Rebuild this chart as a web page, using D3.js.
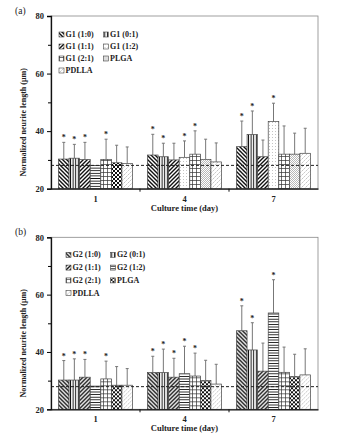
<!DOCTYPE html>
<meta charset="utf-8">
<title>Normalized neurite length</title>
<script src="https://d3js.org/d3.v7.min.js"></script>
<style>
  body { margin: 0; background: #fff; }
  text { font-family: "Liberation Serif", "Times New Roman", serif; font-weight: bold; fill: #222; }
</style>
<div id="chart"></div>
<script>
// data
var days = ["1", "4", "7"];
var seriesA = ["G1 (1:0)", "G1 (0:1)", "G1 (1:1)", "G1 (1:2)", "G1 (2:1)", "PLGA", "PDLLA"];
var seriesB = ["G2 (1:0)", "G2 (0:1)", "G2 (1:1)", "G2 (1:2)", "G2 (2:1)", "PLGA", "PDLLA"];
var yTicks = [20, 40, 60, 80];

// means per day (rows) per series (columns)
var meanA = [[30.3, 30.6, 30.1, 28.1, 30.2, 29.0, 28.8],
             [31.7, 31.1, 30.0, 30.9, 32.0, 30.2, 29.3],
             [34.6, 38.8, 31.1, 43.3, 32.0, 32.0, 32.3]];
var sdA   = [[5.8, 4.8, 6.0, 0, 7.0, 6.1, 5.7],
             [7.2, 4.7, 5.8, 5.7, 8.1, 7.0, 6.6],
             [8.9, 8.2, 5.8, 6.4, 9.8, 7.3, 8.7]];
var sigA  = [[1, 1, 1, 0, 1, 0, 0],
             [1, 1, 0, 1, 1, 0, 0],
             [1, 1, 0, 1, 0, 0, 0]];
var controlA = 28.1;

var meanB = [[30.2, 30.2, 31.2, 28.1, 30.6, 28.4, 28.4],
             [32.8, 32.8, 31.2, 32.4, 31.6, 30.0, 28.8],
             [47.4, 40.7, 33.3, 53.6, 32.9, 31.4, 32.0]];
var sdB   = [[6.8, 7.4, 6.2, 0, 6.2, 6.5, 5.8],
             [5.7, 8.2, 6.6, 9.6, 8.0, 7.1, 6.9],
             [8.7, 9.5, 9.8, 11.6, 8.8, 7.8, 9.1]];
var sigB  = [[1, 1, 1, 0, 1, 0, 0],
             [1, 1, 1, 1, 1, 0, 0],
             [1, 1, 0, 1, 0, 0, 0]];
var controlB = 27.9;

var svg = d3.select("#chart").append("svg")
    .attr("width", 340).attr("height", 440);

// hatch patterns
var defs = svg.append("defs");
function pat(id, size, draw) {
  var p = defs.append("pattern").attr("id", id)
    .attr("patternUnits", "userSpaceOnUse")
    .attr("width", size).attr("height", size);
  p.append("rect").attr("width", size).attr("height", size).attr("fill", "#fff");
  draw(p);
}
pat("bslash", 4, function(p) {
  p.append("path").attr("d", "M-1,-1L5,5M-1,3L1,5M3,-1L5,1").attr("stroke", "#111").attr("stroke-width", 1.4);
});
pat("slash", 4, function(p) {
  p.append("path").attr("d", "M-1,5L5,-1M-1,1L1,-1M3,5L5,3").attr("stroke", "#111").attr("stroke-width", 1.4);
});
pat("vert", 2.6, function(p) {
  p.append("path").attr("d", "M1.3,0V2.6").attr("stroke", "#111").attr("stroke-width", 1);
});
pat("horiz", 2.6, function(p) {
  p.append("path").attr("d", "M0,1.3H2.6").attr("stroke", "#111").attr("stroke-width", 0.9);
});
pat("dots", 3, function(p) {
  p.append("circle").attr("cx", 1.5).attr("cy", 1.5).attr("r", 0.45).attr("fill", "#888");
});
pat("grid", 4, function(p) {
  p.append("path").attr("d", "M0,0.4H4M0.4,0V4").attr("stroke", "#333").attr("stroke-width", 0.8);
});
pat("check", 4, function(p) {
  p.append("rect").attr("width", 2).attr("height", 2).attr("fill", "#111");
  p.append("rect").attr("x", 2).attr("y", 2).attr("width", 2).attr("height", 2).attr("fill", "#111");
});
pat("fine", 2, function(p) {
  p.append("path").attr("d", "M-0.5,2.5L2.5,-0.5M-0.5,0.5L0.5,-0.5M1.5,2.5L2.5,1.5").attr("stroke", "#888").attr("stroke-width", 0.6);
});
pat("light", 4, function(p) {
  p.append("path").attr("d", "M-1,5L5,-1M-1,1L1,-1M3,5L5,3").attr("stroke", "#aaa").attr("stroke-width", 0.8)
    .attr("stroke-dasharray", "2,1");
});

// pattern per series (panel a has a couple of odd ones per day)
function fillA(s, d) {
  if (s === 3) return d === 0 ? "horiz" : "dots";
  if (s === 5) return d === 0 ? "check" : "fine";
  return ["bslash", "vert", "slash", "", "grid", "", "light"][s];
}
function fillB(s) {
  return ["bslash", "vert", "slash", "horiz", "grid", "check", "light"][s];
}
var legendFillA = ["bslash", "vert", "slash", "dots", "grid", "fine", "light"];

function drawPanel(o) {
  var left = 51, w = 267, top = o.top, h = o.h;
  var g = svg.append("g").attr("transform", "translate(" + left + "," + top + ")");

  var y = d3.scaleLinear().domain([20, 80]).range([h, 0]);
  var x0 = d3.scaleBand().domain(days).range([0, w]);
  var x1 = d3.scaleBand().domain(d3.range(7)).range([7.5, x0.bandwidth() - 7.5]);

  // frame
  g.append("rect").attr("width", w).attr("height", h)
    .attr("fill", "none").attr("stroke", "#888").attr("stroke-width", 0.8);

  // bars
  days.forEach(function(day, di) {
    var gg = g.append("g").attr("transform", "translate(" + x0(day) + ",0)");
    var rows = o.series.map(function(name, si) {
      return {s: si, m: o.mean[di][si], sd: o.sd[di][si], sig: o.sig[di][si]};
    });
    // error bars
    gg.selectAll(".err").data(rows.filter(function(r) { return r.sd > 0; }))
      .enter().append("path")
      .attr("d", function(r) {
        var cx = x1(r.s) + x1.bandwidth() / 2;
        return "M" + cx + "," + y(r.m) + "V" + y(r.m + r.sd) + "M" + (cx - 1.5) + "," + y(r.m + r.sd) + "H" + (cx + 1.5);
      })
      .attr("stroke", "#777").attr("stroke-width", 1).attr("fill", "none");
    gg.selectAll(".bar").data(rows).enter().append("rect")
      .attr("x", function(r) { return x1(r.s); })
      .attr("y", function(r) { return y(r.m); })
      .attr("width", x1.bandwidth())
      .attr("height", function(r) { return y(20) - y(r.m); })
      .attr("fill", function(r) { return "url(#" + o.fill(r.s, di) + ")"; })
      .attr("stroke", "#444").attr("stroke-width", 0.7);
    gg.selectAll(".star").data(rows.filter(function(r) { return r.sig; }))
      .enter().append("text")
      .attr("x", function(r) { return x1(r.s) + x1.bandwidth() / 2; })
      .attr("y", function(r) { return y(r.m + r.sd) - 2; })
      .attr("text-anchor", "middle")
      .style("font-size", "8px")
      .text("*");
  });

  // control level
  g.append("line").attr("x1", 0).attr("x2", w)
    .attr("y1", y(o.control)).attr("y2", y(o.control))
    .attr("stroke", "#222").attr("stroke-width", 1).attr("stroke-dasharray", "3,2");

  // y axis
  var ya = g.append("g")
    .call(d3.axisLeft(y).tickValues(yTicks).tickSize(4).tickPadding(3));
  ya.selectAll("text").style("font-size", "8.5px").style("font-family", "Liberation Serif").style("font-weight", "bold");
  g.append("g")
    .call(d3.axisLeft(y).tickValues([30, 50, 70]).tickSize(3).tickFormat(""))
    .select(".domain").remove();
  ya.select(".domain").attr("stroke", "#111").attr("stroke-width", 1.3);

  // x axis
  var xa = g.append("g").attr("transform", "translate(0," + h + ")")
    .call(d3.axisBottom(x0).tickSize(0).tickPadding(7));
  xa.select(".domain").attr("stroke", "#111").attr("stroke-width", 1.3);
  xa.selectAll("text").style("font-size", "8.5px").style("font-family", "Liberation Serif").style("font-weight", "bold");
  g.append("g").selectAll("line").data(days.slice(1)).enter().append("line")
    .attr("x1", function(d) { return x0(d); }).attr("x2", function(d) { return x0(d); })
    .attr("y1", h).attr("y2", h + 3).attr("stroke", "#111");

  g.append("text").attr("x", w / 2).attr("y", h + 22)
    .attr("text-anchor", "middle").style("font-size", "8.5px")
    .text("Culture time (day)");
  g.append("text")
    .attr("transform", "translate(-25," + (h / 2 + 20) + ") rotate(-90)")
    .attr("text-anchor", "middle").style("font-size", "8px")
    .text("Normalized neurite length (\u03bcm)");
  g.append("text").attr("x", -36).attr("y", -2)
    .style("font-size", "9.5px").style("font-weight", "normal")
    .text(o.label);

  // legend
  var lg = g.append("g").attr("transform", "translate(" + o.legX + "," + o.legY + ")");
  o.series.forEach(function(name, i) {
    var col = i % 2, row = Math.floor(i / 2);
    var it = lg.append("g").attr("transform", "translate(" + (col * 44.5) + "," + (row * o.legDy) + ")");
    it.append("rect").attr("x", 0).attr("y", -5).attr("width", 5).attr("height", 5)
      .attr("fill", "url(#" + o.legFill[i] + ")").attr("stroke", "#444").attr("stroke-width", 0.6);
    it.append("text").attr("x", 6.5).attr("y", 0).style("font-size", "8px").text(name);
  });
}

drawPanel({top: 16, h: 172.7, label: "(a)", series: seriesA, mean: meanA, sd: sdA, sig: sigA,
  control: controlA, fill: fillA, legFill: legendFillA, legX: 8, legY: 21, legDy: 12});
drawPanel({top: 237.3, h: 172, label: "(b)", series: seriesB, mean: meanB, sd: sdB, sig: sigB,
  control: controlB, fill: fillB, legFill: ["bslash", "vert", "slash", "horiz", "grid", "check", "light"],
  legX: 15, legY: 20, legDy: 12.8});
</script>
